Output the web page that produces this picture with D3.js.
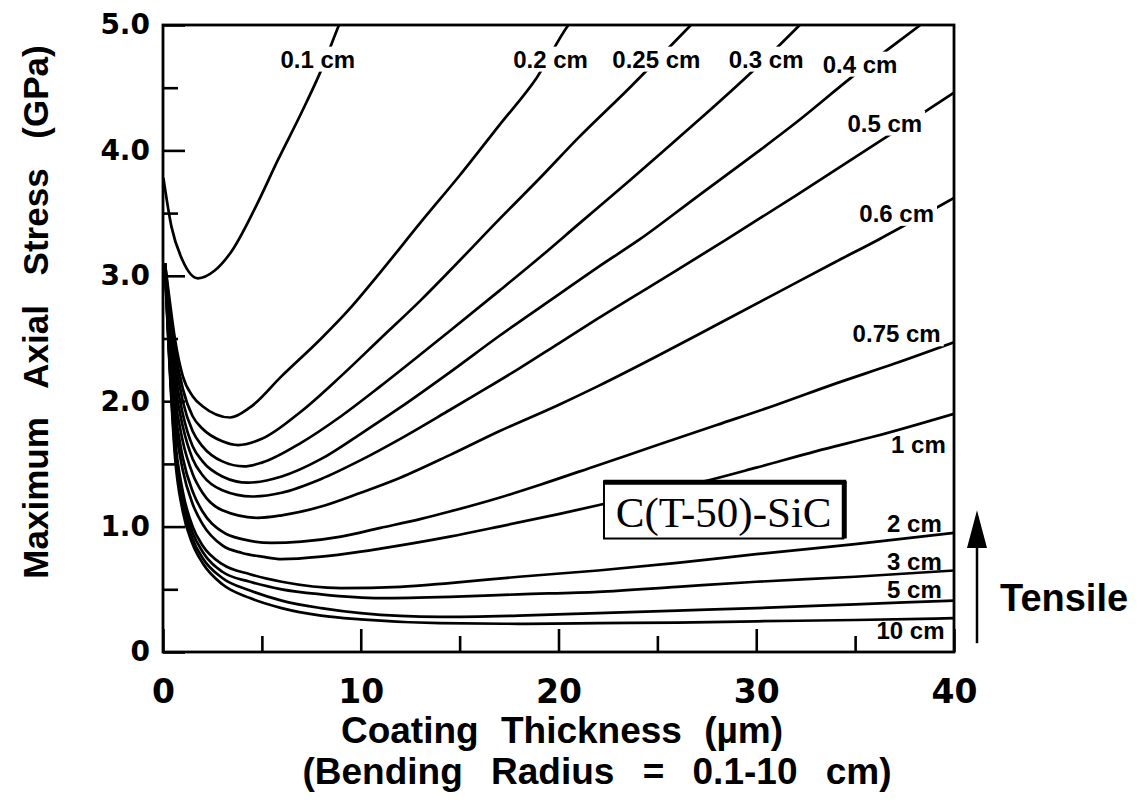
<!DOCTYPE html>
<html>
<head>
<meta charset="utf-8">
<script src="https://cdn.jsdelivr.net/npm/d3@7"></script>
<style>
body { margin:0; background:#fff; }
svg { display:block; }
</style>
</head>
<body>
<svg id="chart" width="1141" height="811"></svg>
<script>
// bending radius for each curve (same order as the point arrays below)
var radii = ["0.1 cm","0.2 cm","0.25 cm","0.3 cm","0.4 cm","0.5 cm","0.6 cm","0.75 cm","1 cm","2 cm","3 cm","5 cm","10 cm"];

// [coating thickness (um), max axial stress (GPa)]
var r010 = [[0.02,3.78],[0.43,3.39],[0.97,3.13],[1.77,2.98],[2.6,3.04],[3.4,3.18],[4.75,3.57],[5.8,3.92],[7,4.3],[8,4.64],[8.9,5.0],[9.3,5.15]];
var r020 = [[0.1,3.1],[0.3,2.85],[0.6,2.5],[1,2.2],[1.5,2.04],[2,1.96],[3.4,1.87],[4.4,1.95],[6,2.2],[8,2.5],[9.4,2.73],[11,3.03],[13.1,3.44],[15,3.8],[17,4.2],[18.9,4.58],[20.5,5.0],[21,5.1]];
var r025 = [[0.1,3.1],[0.3,2.8],[0.6,2.42],[1,2.1],[1.5,1.88],[2,1.78],[3,1.68],[3.8,1.65],[5,1.7],[7,1.92],[9,2.2],[11,2.5],[13,2.8],[14.5,3.04],[17,3.45],[19,3.77],[21,4.1],[23.6,4.5],[26.7,5.0],[27.2,5.08]];
var r030 = [[0.1,3.1],[0.3,2.75],[0.6,2.35],[1,2.0],[1.5,1.76],[2,1.64],[3,1.52],[4.1,1.48],[5,1.51],[7,1.67],[9,1.88],[11,2.12],[13,2.37],[14.5,2.56],[17,2.88],[19,3.14],[21,3.41],[23.6,3.76],[26.5,4.16],[29.8,4.63],[32.2,5.0],[32.7,5.08]];
var r040 = [[0.1,3.1],[0.3,2.7],[0.6,2.25],[1,1.9],[1.5,1.64],[2,1.52],[3,1.4],[4.3,1.35],[6,1.4],[8,1.54],[10,1.74],[12,1.95],[14.5,2.23],[17,2.52],[20,2.85],[22,3.07],[24.1,3.29],[27,3.63],[30,3.98],[32,4.22],[34.8,4.58],[38.3,5.0],[38.8,5.06]];
var r050 = [[0.1,3.1],[0.3,2.65],[0.6,2.15],[1,1.8],[1.5,1.54],[2,1.41],[3,1.29],[4.5,1.24],[6,1.27],[8,1.38],[10,1.53],[12,1.7],[14.5,1.93],[16,2.07],[18,2.26],[20,2.46],[22,2.66],[25,2.95],[28.5,3.29],[32,3.64],[36.9,4.14],[40,4.46]];
var r060 = [[0.1,3.1],[0.3,2.6],[0.6,2.05],[1,1.68],[1.5,1.42],[2,1.27],[3,1.13],[4.8,1.07],[6,1.09],[8,1.16],[10,1.27],[12,1.39],[14.5,1.57],[17,1.76],[20,1.97],[22,2.12],[25,2.36],[28,2.61],[31,2.86],[34,3.11],[36.2,3.29],[40,3.62]];
var r075 = [[0.1,3.1],[0.3,2.55],[0.6,1.95],[1,1.55],[1.5,1.28],[2,1.12],[3,0.96],[4,0.9],[5.5,0.87],[7,0.88],[9,0.92],[11,0.99],[13,1.06],[14.5,1.12],[17,1.23],[19,1.33],[22,1.49],[25,1.65],[28,1.81],[31,1.97],[34,2.14],[37,2.3],[40,2.47]];
var r100 = [[0.1,3.1],[0.3,2.5],[0.6,1.85],[1,1.45],[1.5,1.18],[2,1.02],[3,0.85],[4,0.79],[5,0.76],[6,0.74],[8,0.76],[10,0.8],[12,0.85],[14.5,0.92],[17,1.0],[20,1.1],[22,1.17],[25,1.28],[27.6,1.37],[30,1.47],[33,1.6],[36,1.72],[40,1.9]];
var r200 = [[0.1,3.08],[0.3,2.45],[0.6,1.72],[1,1.28],[1.5,1.0],[2,0.85],[3,0.7],[4.4,0.62],[6,0.56],[9,0.51],[12,0.52],[14.5,0.55],[18,0.6],[22,0.65],[26,0.71],[30,0.78],[35,0.86],[40,0.95]];
var r300 = [[0.1,3.08],[0.3,2.42],[0.6,1.67],[1,1.22],[1.5,0.95],[2,0.8],[3,0.64],[4.4,0.56],[6,0.5],[8,0.46],[11,0.43],[14.5,0.44],[18,0.46],[22,0.48],[26,0.52],[30,0.56],[35,0.6],[40,0.65]];
var r500 = [[0.1,3.06],[0.3,2.4],[0.6,1.62],[1,1.17],[1.5,0.9],[2,0.75],[3,0.59],[4.4,0.49],[6,0.41],[8,0.35],[10,0.31],[14,0.28],[18,0.29],[22,0.31],[26,0.33],[30,0.35],[35,0.38],[40,0.41]];
var r1000 = [[0.1,3.05],[0.3,2.38],[0.6,1.57],[1,1.12],[1.5,0.86],[2,0.71],[3,0.54],[4.4,0.43],[6,0.35],[8,0.29],[10,0.26],[14,0.23],[18,0.225],[22,0.23],[26,0.235],[30,0.245],[35,0.255],[40,0.27]];

var xTicks = [0,10,20,30,40];
var xTickLabels = ["0","10","20","30","40"];
var xMinor = [5,15,25,35];
var yTicks = [0,1,2,3,4,5];
var yTickLabels = ["0","1.0","2.0","3.0","4.0","5.0"];
var yMinor = [0.5,1.5,2.5,3.5,4.5];

// label anchor (text centre, baseline) of each curve, in data units
var labelAt = [[7.83,4.66],[19.6,4.66],[24.95,4.66],[30.5,4.66],[35.25,4.62],[36.5,4.15],[37.1,3.43],[37.1,2.47],[38.2,1.59],[38.0,0.96],[38.0,0.65],[38.0,0.43],[37.8,0.1]];

var allCurves = [r010,r020,r025,r030,r040,r050,r060,r075,r100,r200,r300,r500,r1000];

var svg = d3.select("#chart");
var plotL = 163, plotR = 954, plotT = 25, plotB = 652;
var sans = "Liberation Sans, Arial, Helvetica, sans-serif";

var x = d3.scaleLinear().domain([0,40]).range([plotL,plotR]);
var y = d3.scaleLinear().domain([0,5]).range([plotB,plotT]);

svg.append("defs").append("clipPath").attr("id","plotclip")
	.append("rect").attr("x",plotL).attr("y",plotT).attr("width",plotR-plotL).attr("height",plotB-plotT);

// ticks (inward)
function styleAxis(g) {
	g.select(".domain").remove();
	g.selectAll(".tick line").attr("stroke","#000").attr("stroke-width",2.6);
	g.selectAll(".tick text").attr("fill","#000");
}

svg.append("g").attr("transform","translate(0,"+plotB+")")
	.call(d3.axisBottom(x).tickValues(xTicks).tickSizeInner(-23).tickSizeOuter(0).tickPadding(28)
		.tickFormat(function(d,i){ return xTickLabels[i]; }))
	.call(styleAxis)
	.selectAll(".tick text").attr("font-family","DejaVu Sans").attr("font-weight","bold").attr("font-size",33);

svg.append("g").attr("transform","translate(0,"+plotB+")")
	.call(d3.axisBottom(x).tickValues(xMinor).tickSizeInner(-16).tickSizeOuter(0).tickFormat(""))
	.call(styleAxis);

svg.append("g").attr("transform","translate("+plotL+",0)")
	.call(d3.axisLeft(y).tickValues(yTicks).tickSizeInner(-22).tickSizeOuter(0).tickPadding(13)
		.tickFormat(function(d,i){ return yTickLabels[i]; }))
	.call(styleAxis)
	.selectAll(".tick text").attr("font-family","DejaVu Sans").attr("font-weight","bold").attr("font-size",28);

svg.append("g").attr("transform","translate("+plotL+",0)")
	.call(d3.axisLeft(y).tickValues(yMinor).tickSizeInner(-15).tickSizeOuter(0).tickFormat(""))
	.call(styleAxis);

// curves
var line = d3.line()
	.x(function(d){ return x(d[0]); })
	.y(function(d){ return y(d[1]); })
	.curve(d3.curveMonotoneX);

svg.append("g").attr("clip-path","url(#plotclip)")
	.selectAll("path")
	.data(allCurves)
	.enter()
	.append("path")
	.attr("d",line)
	.attr("fill","none")
	.attr("stroke","#000")
	.attr("stroke-width",2.7)
	.attr("stroke-linejoin","round");

// curve labels, the upper ones knock the line out behind them
var labG = svg.append("g");
radii.forEach(function(r,i) {
	var t = labG.append("text")
		.attr("x",x(labelAt[i][0]))
		.attr("y",y(labelAt[i][1]))
		.attr("text-anchor","middle")
		.attr("font-family",sans)
		.attr("font-weight","bold")
		.attr("font-size",24)
		.text(r);
	if (i < 8) {
		var bb = t.node().getBBox();
		labG.insert("rect","text")
			.attr("x",bb.x-3).attr("y",bb.y+1)
			.attr("width",bb.width+6).attr("height",bb.height-2)
			.attr("fill","#fff");
	}
});

// frame
svg.append("rect")
	.attr("x",plotL).attr("y",plotT).attr("width",plotR-plotL).attr("height",plotB-plotT)
	.attr("fill","none").attr("stroke","#000").attr("stroke-width",2.8);

// material box
var bx0 = x(22.3), bx1 = x(34.4), by0 = y(1.362), by1 = y(0.905);
svg.append("rect").attr("x",bx0).attr("y",by0).attr("width",bx1-bx0).attr("height",by1-by0)
	.attr("fill","#fff").attr("stroke","#000").attr("stroke-width",2);
svg.append("line").attr("x1",bx0).attr("x2",bx1+3).attr("y1",by0+1).attr("y2",by0+1)
	.attr("stroke","#000").attr("stroke-width",5);
svg.append("line").attr("x1",bx1+1).attr("x2",bx1+1).attr("y1",by0).attr("y2",by1)
	.attr("stroke","#000").attr("stroke-width",5);
svg.append("text")
	.attr("x",(bx0+bx1)/2).attr("y",by1-12)
	.attr("text-anchor","middle")
	.attr("font-family","Liberation Serif, Times New Roman, serif")
	.attr("font-size",43)
	.text("C(T-50)-SiC");

// tensile arrow
var ax = plotR+23;
svg.append("line").attr("x1",ax).attr("x2",ax).attr("y1",y(0.07)).attr("y2",y(0.85))
	.attr("stroke","#000").attr("stroke-width",2.5);
svg.append("path")
	.attr("d","M"+ax+","+y(1.13)+" L"+(ax-10)+","+y(0.83)+" L"+(ax+10)+","+y(0.83)+" Z")
	.attr("fill","#000");
svg.append("text")
	.attr("x",1000).attr("y",611)
	.attr("font-family",sans)
	.attr("font-weight","bold")
	.attr("font-size",38)
	.text("Tensile");

// axis titles
svg.append("text")
	.attr("transform","translate(48,312) rotate(-90)")
	.attr("text-anchor","middle")
	.attr("font-family",sans)
	.attr("font-weight","bold")
	.attr("font-size",35)
	.attr("word-spacing",20)
	.text("Maximum Axial Stress (GPa)");

svg.append("text")
	.attr("x",562).attr("y",743)
	.attr("text-anchor","middle")
	.attr("font-family",sans)
	.attr("font-weight","bold")
	.attr("font-size",37)
	.attr("word-spacing",12)
	.text("Coating Thickness (\u00b5m)");

svg.append("text")
	.attr("x",597).attr("y",784)
	.attr("text-anchor","middle")
	.attr("font-family",sans)
	.attr("font-weight","bold")
	.attr("font-size",37)
	.attr("word-spacing",18)
	.text("(Bending Radius = 0.1-10 cm)");
</script>
</body>
</html>
